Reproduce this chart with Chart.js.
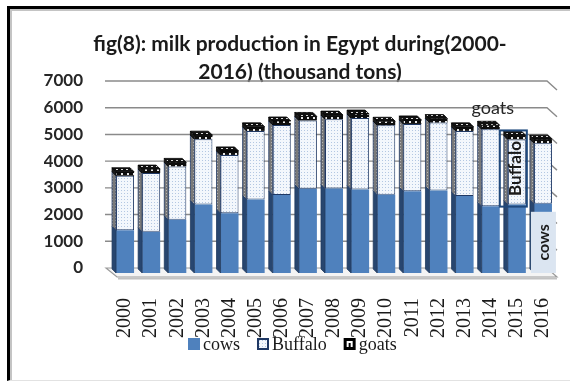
<!DOCTYPE html>
<html>
<head>
<meta charset="utf-8">
<script src="https://cdn.jsdelivr.net/npm/chart.js@4.4.1/dist/chart.umd.min.js"></script>
<style>
  html, body { margin: 0; padding: 0; background: #fff; }
  .wrap { position: relative; width: 570px; height: 381px; }
  canvas { display: block; }
  .frame {
    position: absolute; left: 7px; top: 6px; right: 0; bottom: 0;
    border-left: 3px solid #000; border-top: 3px solid #000; border-bottom: 1px solid #e2e2e2;
    box-shadow: inset 2px 2px 0 #c4c4c4;
    pointer-events: none;
  }
</style>
</head>
<body>
<div class="wrap">
  <canvas id="milk" width="570" height="381"></canvas>
  <div class="frame"></div>
</div>
<script>
// milk production (thousand tons)
const years = ["2000", "2001", "2002", "2003", "2004", "2005", "2006", "2007", "2008",
               "2009", "2010", "2011", "2012", "2013", "2014", "2015", "2016"];
const cows    = [1600, 1540, 1990, 2560, 2240, 2750, 2920, 3150, 3160, 3130, 2930, 3060, 3090, 2880, 2500, 2560, 2590];
const buffalo = [2040, 2200, 2000, 2450, 2180, 2570, 2620, 2560, 2600, 2670, 2600, 2520, 2540, 2440, 2880, 2440, 2270];
const goats   = [150, 150, 150, 150, 150, 150, 150, 150, 150, 150, 150, 150, 150, 150, 150, 150, 150];
const seriesNames = ["cows", "Buffalo", "goats"];

const SANS = "Lato, 'Open Sans', sans-serif";
const SERIF = "'Liberation Serif', 'DejaVu Serif', serif";

// small repeating fills for the dotted faces
function pattern(bg, fg, w, h, dots) {
  const c = document.createElement("canvas");
  c.width = w; c.height = h;
  const g = c.getContext("2d");
  g.fillStyle = bg;
  g.fillRect(0, 0, w, h);
  g.fillStyle = fg;
  dots.forEach(d => g.fillRect(d[0], d[1], d[2], d[3]));
  return g.createPattern(c, "repeat");
}

const buffaloFront = pattern("#f3f7fc", "#b3c7e2", 3, 3, [[1, 1, 1, 1]]);
const buffaloSide = pattern("#7a7a7a", "#b4b4b4", 3, 3, [[1, 1, 1, 1]]);
const goatsFront = pattern("#0d0d0d", "#e8e8e8", 6, 4, [[1, 1, 2, 2]]);
const goatsTop = pattern("#111", "#d8d8d8", 5, 3, [[1, 1, 2, 1]]);

const faces = [
  { front: "#4f81bd", side: "#28466f", top: "#3a6293", edge: "#1f3a5f" },
  { front: buffaloFront, side: buffaloSide, top: buffaloSide, edge: "#1f3864" },
  { front: goatsFront, side: "#1a1a1a", top: goatsTop, edge: "#000" }
];

// depth of the bar boxes and of the back wall
const DX = -4, DY = -4;
const WALL_Y = -5;

const wall = {
  id: "wall",
  beforeDatasetsDraw(chart) {
    const { ctx, chartArea: a } = chart;
    const ys = chart.scales.y;
    ctx.save();
    // floor slab
    const y0 = ys.getPixelForValue(0) + WALL_Y;
    ctx.beginPath();
    ctx.moveTo(a.left - 6, y0);
    ctx.lineTo(a.right - 9, y0);
    ctx.lineTo(a.right + 1, y0 + 9);
    ctx.lineTo(a.left + 5, y0 + 9);
    ctx.closePath();
    ctx.fillStyle = "#f4f4f4";
    ctx.fill();
    ctx.strokeStyle = "#9b9b9b";
    ctx.lineWidth = 1.2;
    ctx.stroke();
    ctx.beginPath();
    ctx.moveTo(a.left + 6, y0 + 10.5);
    ctx.lineTo(a.right + 1, y0 + 10.5);
    ctx.strokeStyle = "#c2c2c2";
    ctx.lineWidth = 2;
    ctx.stroke();
    // back wall grid with the bend on the side wall
    ctx.strokeStyle = "#8a8a8a";
    ctx.lineWidth = 1.4;
    ys.ticks.forEach(t => {
      if (t.value === 0) return;
      const py = ys.getPixelForValue(t.value) + WALL_Y;
      ctx.beginPath();
      ctx.moveTo(a.left - 7, py);
      ctx.lineTo(a.right - 9, py);
      ctx.lineTo(a.right + 1, py + 9);
      ctx.stroke();
    });
    ctx.restore();
  }
};

const boxes3d = {
  id: "boxes3d",
  afterDatasetsDraw(chart) {
    const ctx = chart.ctx;
    const last = chart.data.datasets.length - 1;
    ctx.save();
    ctx.lineWidth = 0.8;
    chart.data.datasets.forEach((ds, di) => {
      const f = faces[di];
      chart.getDatasetMeta(di).data.forEach(bar => {
        const p = bar.getProps(["x", "y", "base", "width"], true);
        const l = p.x - p.width / 2, r = p.x + p.width / 2;
        ctx.beginPath();
        ctx.moveTo(l, p.base);
        ctx.lineTo(l, p.y);
        ctx.lineTo(l + DX, p.y + DY);
        ctx.lineTo(l + DX, p.base + DY);
        ctx.closePath();
        ctx.fillStyle = f.side;
        ctx.fill();
        ctx.strokeStyle = f.edge;
        ctx.stroke();
        if (di === last) {
          ctx.beginPath();
          ctx.moveTo(l, p.y);
          ctx.lineTo(r, p.y);
          ctx.lineTo(r + DX, p.y + DY);
          ctx.lineTo(l + DX, p.y + DY);
          ctx.closePath();
          ctx.fillStyle = f.top;
          ctx.fill();
          ctx.strokeStyle = "#000";
          ctx.stroke();
        }
      });
    });
    ctx.restore();
  }
};

function vText(ctx, text, x, y) {
  ctx.save();
  ctx.translate(x, y);
  ctx.rotate(-Math.PI / 2);
  ctx.textAlign = "center";
  ctx.textBaseline = "middle";
  ctx.fillText(text, 0, 0);
  ctx.restore();
}

// series name labels placed beside the last bars
const seriesLabels = {
  id: "seriesLabels",
  afterDatasetsDraw(chart) {
    const ctx = chart.ctx;
    const n = years.length;
    const cowBar = chart.getDatasetMeta(0).data[n - 1].getProps(["x", "y", "base", "width"], true);
    const bufBar = chart.getDatasetMeta(1).data[n - 2].getProps(["x", "y", "base", "width"], true);
    const goatBar = chart.getDatasetMeta(2).data[n - 2].getProps(["x", "y", "base", "width"], true);
    ctx.save();
    // cows
    const cl = cowBar.x - 12, cr = cowBar.x + 13, ct = cowBar.y + 8, cb = cowBar.base;
    ctx.fillStyle = "#dbe5f1";
    ctx.fillRect(cl, ct, cr - cl, cb - ct);
    ctx.fillStyle = "#1a1a1a";
    ctx.font = "bold 16px " + SANS;
    vText(ctx, seriesNames[0], (cl + cr) / 2, (ct + cb) / 2);
    // Buffalo
    const bl = bufBar.x - bufBar.width / 2 - 8, br = bufBar.x + bufBar.width / 2 + 1;
    const bt = bufBar.y - 9, bb = bufBar.base + 2;
    ctx.strokeStyle = "#1f497d";
    ctx.lineWidth = 2;
    ctx.strokeRect(bl, bt, br - bl, bb - bt);
    ctx.fillStyle = "#1a1a1a";
    ctx.font = "bold 17px " + SANS;
    vText(ctx, seriesNames[1], (bl + br) / 2 + 2, (bt + bb) / 2);
    // goats
    ctx.font = "18px " + SANS;
    ctx.textAlign = "center";
    ctx.textBaseline = "middle";
    ctx.fillStyle = "#262626";
    ctx.fillText(seriesNames[2], goatBar.x - 24, goatBar.y - 27);
    ctx.restore();
  }
};

const legendRow = {
  id: "legendRow",
  afterDraw(chart) {
    const ctx = chart.ctx;
    const y = 344;
    let x = 188;
    ctx.save();
    ctx.font = "18px " + SERIF;
    ctx.textBaseline = "middle";
    ctx.textAlign = "left";
    seriesNames.forEach((name, i) => {
      if (i === 0) {
        ctx.fillStyle = "#4f81bd";
        ctx.fillRect(x, y - 6, 12, 12);
      } else if (i === 1) {
        ctx.fillStyle = buffaloFront;
        ctx.fillRect(x, y - 6, 12, 12);
        ctx.strokeStyle = "#1f3864";
        ctx.lineWidth = 2;
        ctx.strokeRect(x + 1, y - 5, 10, 10);
      } else {
        ctx.fillStyle = "#000";
        ctx.fillRect(x, y - 6, 12, 12);
        ctx.fillStyle = "#fff";
        ctx.fillRect(x + 3, y - 3, 6, 6);
        ctx.fillStyle = "#000";
        ctx.fillRect(x + 5, y - 1, 2, 4);
      }
      x += 15;
      ctx.fillStyle = "#1a1a1a";
      ctx.fillText(name, x, y + 1);
      x += ctx.measureText(name).width + 17;
    });
    ctx.restore();
  }
};

new Chart(document.getElementById("milk"), {
  type: "bar",
  data: {
    labels: years,
    datasets: [
      { label: seriesNames[0], data: cows, backgroundColor: faces[0].front, borderColor: "#2c4f7c", borderWidth: 0 },
      { label: seriesNames[1], data: buffalo, backgroundColor: faces[1].front, borderColor: "#1f3864", borderWidth: 1, borderSkipped: false },
      { label: seriesNames[2], data: goats, backgroundColor: faces[2].front, borderColor: "#000", borderWidth: 0 }
    ]
  },
  plugins: [wall, boxes3d, seriesLabels, legendRow],
  options: {
    responsive: false,
    animation: false,
    events: [],
    barPercentage: 0.69,
    categoryPercentage: 1,
    layout: { padding: { left: 44, right: 14, top: 30, bottom: 38 } },
    plugins: {
      legend: { display: false },
      tooltip: { enabled: false },
      title: {
        display: true,
        text: ["fig(8): milk production in Egypt during(2000-", "2016) (thousand tons)"],
        color: "#1a1a1a",
        font: { family: SANS, size: 21, weight: "bold", lineHeight: 28 / 21 },
        padding: { top: 0, bottom: 0 }
      }
    },
    scales: {
      x: {
        stacked: true,
        grid: { display: false, drawTicks: false },
        border: { display: false },
        ticks: {
          autoSkip: false,
          minRotation: 90,
          maxRotation: 90,
          padding: 25,
          color: "#1a1a1a",
          font: { family: SERIF, size: 20 }
        },
        afterFit(scale) {
          scale.height = 70;
          scale.paddingLeft = 0;
          scale.paddingRight = 0;
        }
      },
      y: {
        stacked: true,
        min: 0,
        max: 7000,
        grid: { display: false, drawTicks: false },
        border: { display: false },
        ticks: {
          stepSize: 1000,
          padding: 29,
          labelOffset: WALL_Y,
          color: "#262626",
          font: { family: SANS, size: 17, weight: "bold" },
          callback: v => String(v)
        },
        afterFit(scale) {
          scale.width = 68;
        }
      }
    }
  }
});
</script>
</body>
</html>
